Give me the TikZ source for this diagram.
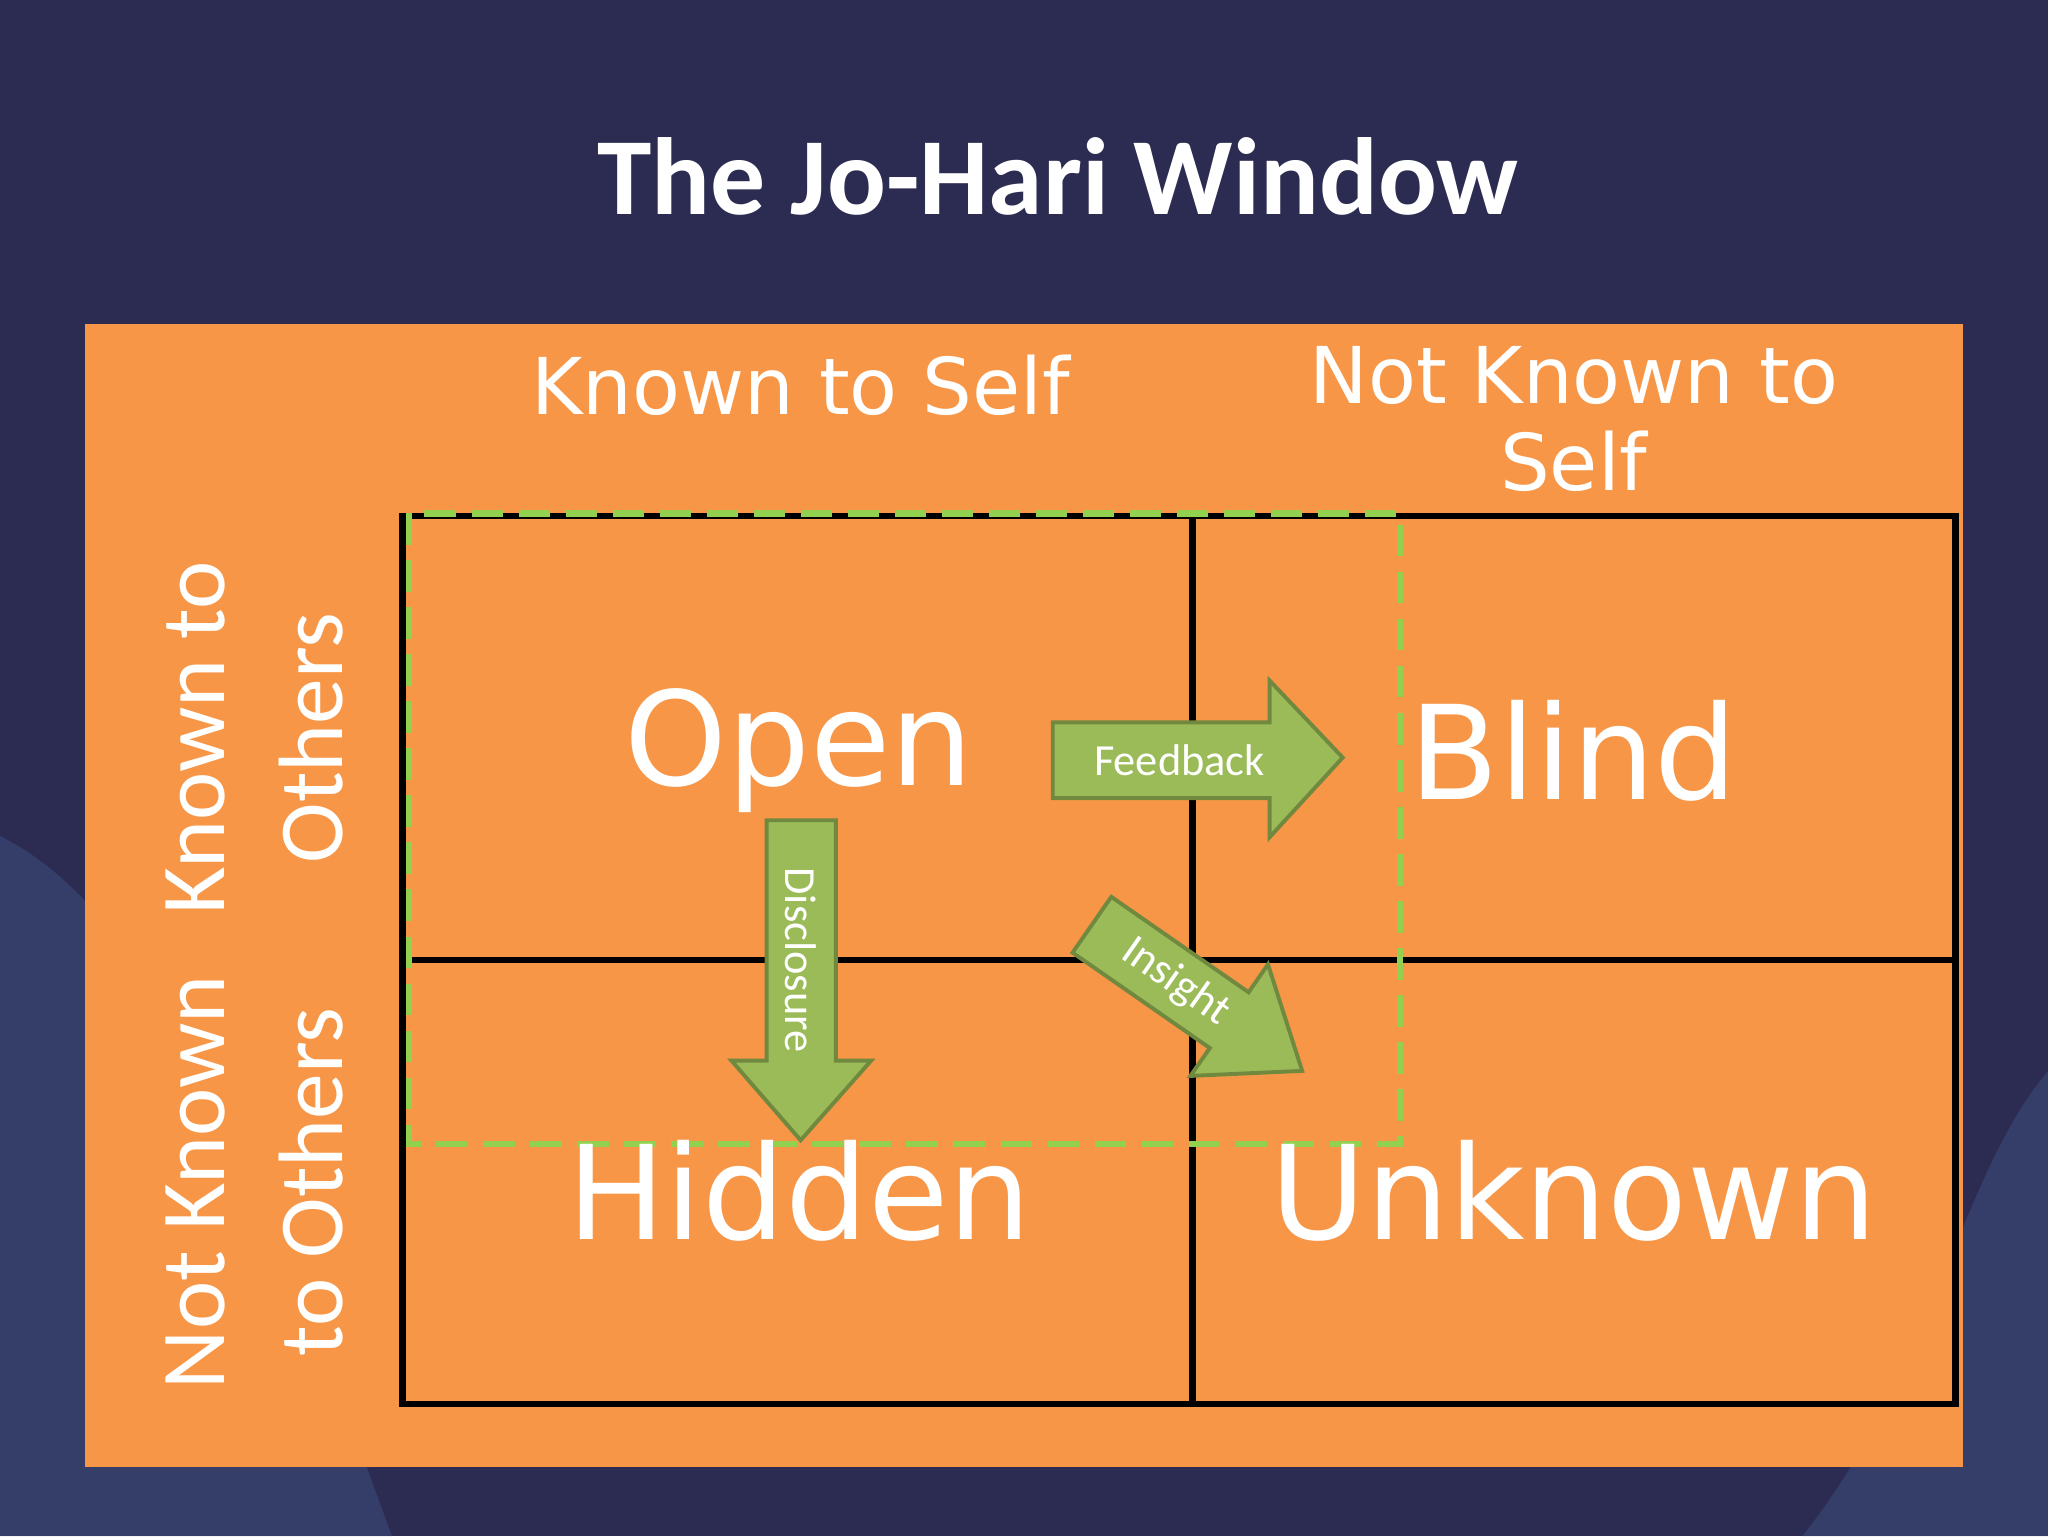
\documentclass[tikz,border=0pt]{standalone}
\usepackage{fontspec}
\setmainfont{Carlito}
\newfontfamily\wide{DejaVu Sans}
\definecolor{navy}{HTML}{2C2C52}
\definecolor{org}{HTML}{F79646}
\definecolor{grn}{HTML}{9BBB59}
\definecolor{grnd}{HTML}{71893F}
\definecolor{dashgreen}{HTML}{92D050}
\definecolor{wave}{HTML}{3A4A78}
\begin{document}
\begin{tikzpicture}[x=1pt,y=-1pt,
  big/.style={text=white,font=\wide\fontsize{100}{100}\selectfont},
  head/.style={text=white,font=\wide\fontsize{60}{66}\selectfont,align=center},
  side/.style={text=white,font=\fontsize{70}{90}\selectfont,align=center,rotate=90},
  arr/.style={fill=grn,draw=grnd,line width=3pt,line join=miter},
  lab/.style={text=white,font=\fontsize{34}{36}\selectfont}]
\fill[navy] (0,0) rectangle (1568,1176);
\fill[wave,opacity=0.6] (0,640) .. controls (120,700) and (200,900) .. (300,1176) -- (0,1176) -- cycle;
\fill[wave,opacity=0.6] (1568,820) .. controls (1500,900) and (1480,1050) .. (1380,1176) -- (1568,1176) -- cycle;
\node[text=white,font=\bfseries\fontsize{84}{90}\selectfont] (title) at (810,135) {The Jo-Hari Window};
\fill[org] (65,248) rectangle (1503,1123);
\node[head] (ks) at (613,295) {Known to Self};
\node[head,anchor=north] (nks) at (1205,262) {Not Known to\\Self};
\node[side] (ko) at (195,565) {Known to\\Others};
\node[side] (nko) at (195,905) {Not Known\\to Others};
\draw[line width=5pt] (308,395) rectangle (1497,1075);
\draw[line width=5pt] (913,395) -- (913,1075);
\draw[line width=5pt] (308,735) -- (1497,735);
\draw[dashgreen,line width=5pt,dash pattern=on 24pt off 12pt] (313,393) rectangle (1072,876);
\node[big] (open) at (612,575) {Open};
\node[big] (blind) at (1205,575) {Blind};
\node[big] (hidden) at (612,912) {Hidden};
\node[big] (unknown) at (1205,912) {Unknown};
\draw[arr] (806,553) -- (972,553) -- (972,521) -- (1028,580) -- (972,641) -- (972,611) -- (806,611) -- cycle;
\node[lab] (fb) at (903,582) {Feedback};
\draw[arr] (587,628) -- (640,628) -- (640,812) -- (667,812) -- (613,873) -- (560,812) -- (587,812) -- cycle;
\node[lab,rotate=-90] (dc) at (613,735) {Disclosure};
\begin{scope}[shift={(836,708)},rotate=-34.8]
\draw[arr] (0,-26) -- (128,-26) -- (128,-52) -- (196,0) -- (128,52) -- (128,26) -- (0,26) -- cycle;
\end{scope}
\node[lab,rotate=-35] (ins) at (900,752) {Insight};
\end{tikzpicture}
\end{document}
